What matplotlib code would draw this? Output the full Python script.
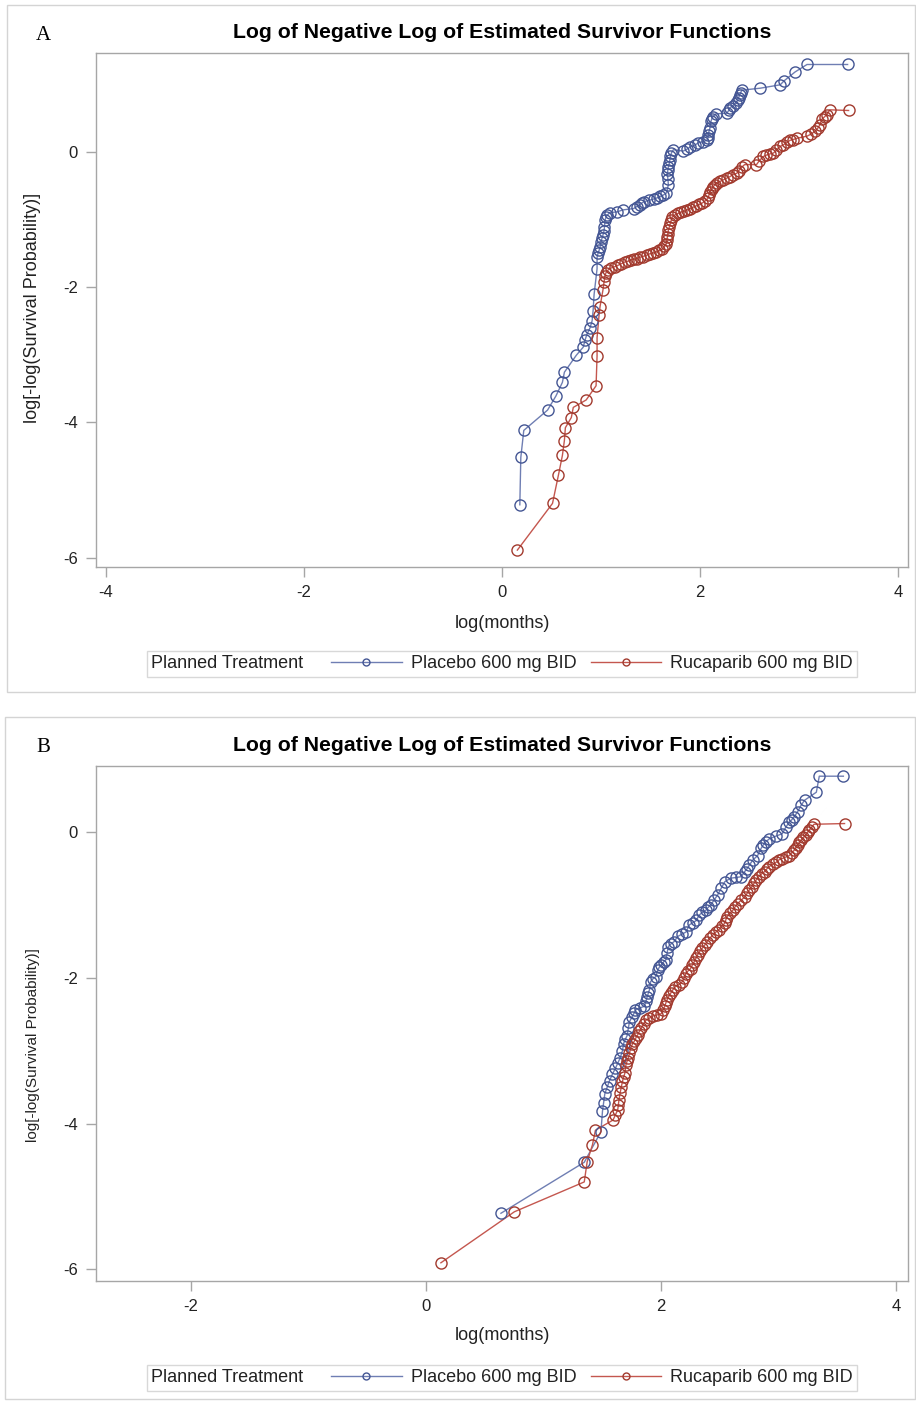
import matplotlib
matplotlib.use("Agg")
import matplotlib.pyplot as plt
from matplotlib.lines import Line2D
from matplotlib.patches import Rectangle
from matplotlib.offsetbox import HPacker

# ── Panel A: log(-log S(t)) vs log(months) ──────────────────────────────────
placebo_a_x = [0.18, 0.19, 0.22, 0.46, 0.545, 0.61, 0.63, 0.75, 0.82, 0.84, 0.855, 0.89,
               0.91, 0.92, 0.93, 0.96, 0.96, 0.97, 0.98, 0.99, 1.00, 1.01, 1.02, 1.03,
               1.035, 1.04, 1.05, 1.06, 1.09, 1.16, 1.22, 1.33, 1.36, 1.39, 1.41, 1.43,
               1.48, 1.53, 1.57, 1.60, 1.63, 1.66, 1.68, 1.675, 1.67, 1.675, 1.68, 1.69,
               1.695, 1.70, 1.71, 1.73, 1.83, 1.87, 1.90, 1.95, 1.98, 2.03, 2.07, 2.08,
               2.085, 2.09, 2.10, 2.11, 2.12, 2.13, 2.16, 2.27, 2.29, 2.30, 2.33, 2.36,
               2.38, 2.39, 2.40, 2.41, 2.42, 2.61, 2.81, 2.85, 2.96, 3.08, 3.49]
placebo_a_y = [-5.22, -4.52, -4.12, -3.82, -3.61, -3.41, -3.26, -3.01, -2.89, -2.78, -2.71, -2.60,
               -2.50, -2.35, -2.11, -1.73, -1.56, -1.50, -1.46, -1.41, -1.33, -1.28, -1.23, -1.17,
               -1.11, -1.01, -0.97, -0.94, -0.90, -0.89, -0.86, -0.84, -0.81, -0.79, -0.76, -0.74,
               -0.72, -0.70, -0.68, -0.66, -0.64, -0.61, -0.49, -0.40, -0.33, -0.27, -0.22, -0.17,
               -0.12, -0.07, -0.02, 0.03, 0.01, 0.04, 0.07, 0.10, 0.13, 0.15, 0.17, 0.21,
               0.25, 0.30, 0.35, 0.45, 0.49, 0.52, 0.56, 0.57, 0.61, 0.65, 0.68, 0.72,
               0.76, 0.80, 0.84, 0.87, 0.91, 0.94, 0.99, 1.05, 1.18, 1.29, 1.29]

rucaparib_a_x = [0.155, 0.51, 0.57, 0.61, 0.63, 0.64, 0.70, 0.72, 0.85, 0.95, 0.96, 0.96,
                 0.98, 0.99, 1.02, 1.03, 1.04, 1.05, 1.07, 1.10, 1.14, 1.17, 1.20, 1.24,
                 1.27, 1.30, 1.33, 1.36, 1.39, 1.42, 1.46, 1.49, 1.52, 1.56, 1.59, 1.62,
                 1.64, 1.66, 1.665, 1.67, 1.675, 1.68, 1.69, 1.70, 1.71, 1.72, 1.75, 1.78,
                 1.81, 1.84, 1.87, 1.90, 1.93, 1.96, 1.99, 2.02, 2.05, 2.08, 2.09, 2.10,
                 2.12, 2.13, 2.15, 2.17, 2.20, 2.23, 2.27, 2.30, 2.33, 2.37, 2.39, 2.42,
                 2.45, 2.57, 2.60, 2.64, 2.67, 2.71, 2.74, 2.77, 2.81, 2.84, 2.88, 2.91,
                 2.94, 2.98, 3.08, 3.12, 3.16, 3.19, 3.21, 3.23, 3.26, 3.28, 3.31, 3.50]
rucaparib_a_y = [-5.89, -5.20, -4.78, -4.49, -4.27, -4.08, -3.93, -3.78, -3.67, -3.46, -3.02, -2.75,
                 -2.42, -2.29, -2.04, -1.93, -1.83, -1.79, -1.75, -1.72, -1.70, -1.68, -1.66, -1.63,
                 -1.62, -1.60, -1.59, -1.58, -1.56, -1.55, -1.53, -1.51, -1.50, -1.48, -1.46, -1.44,
                 -1.40, -1.36, -1.31, -1.26, -1.21, -1.16, -1.11, -1.06, -1.01, -0.96, -0.93, -0.91,
                 -0.89, -0.88, -0.86, -0.84, -0.82, -0.80, -0.78, -0.76, -0.73, -0.69, -0.64, -0.59,
                 -0.55, -0.52, -0.49, -0.46, -0.44, -0.42, -0.39, -0.37, -0.34, -0.32, -0.28, -0.23,
                 -0.19, -0.19, -0.13, -0.07, -0.05, -0.03, -0.02, 0.02, 0.08, 0.10, 0.14, 0.17,
                 0.18, 0.20, 0.23, 0.26, 0.30, 0.35, 0.40, 0.48, 0.52, 0.55, 0.62, 0.61]

# ── Panel B ─────────────────────────────────────────────────────────────────
placebo_b_x = [0.636, 1.345, 1.487, 1.50, 1.51, 1.52, 1.54, 1.56, 1.585, 1.61, 1.63, 1.65,
               1.67, 1.68, 1.695, 1.71, 1.72, 1.73, 1.75, 1.77, 1.78, 1.82, 1.855, 1.87,
               1.88, 1.89, 1.90, 1.91, 1.93, 1.955, 1.97, 1.985, 2.00, 2.02, 2.04, 2.05,
               2.06, 2.085, 2.11, 2.14, 2.175, 2.21, 2.24, 2.27, 2.30, 2.32, 2.35, 2.38,
               2.40, 2.42, 2.45, 2.48, 2.51, 2.54, 2.59, 2.64, 2.68, 2.71, 2.73, 2.75,
               2.78, 2.82, 2.85, 2.87, 2.89, 2.92, 2.98, 3.03, 3.06, 3.09, 3.11, 3.13,
               3.16, 3.19, 3.22, 3.32, 3.345, 3.55]
placebo_b_y = [-5.23, -4.53, -4.11, -3.83, -3.71, -3.59, -3.50, -3.41, -3.32, -3.24, -3.17, -3.10,
               -3.00, -2.90, -2.84, -2.79, -2.69, -2.60, -2.54, -2.48, -2.44, -2.41, -2.39, -2.32,
               -2.26, -2.21, -2.16, -2.05, -2.01, -1.98, -1.89, -1.85, -1.82, -1.78, -1.75, -1.66,
               -1.57, -1.53, -1.50, -1.43, -1.40, -1.37, -1.27, -1.24, -1.21, -1.14, -1.10, -1.07,
               -1.03, -1.00, -0.93, -0.86, -0.77, -0.68, -0.63, -0.62, -0.61, -0.54, -0.50, -0.45,
               -0.38, -0.32, -0.22, -0.17, -0.13, -0.09, -0.05, -0.02, 0.07, 0.14, 0.17, 0.21,
               0.28, 0.37, 0.44, 0.55, 0.77, 0.77]

rucaparib_b_x = [0.125, 0.75, 1.345, 1.37, 1.415, 1.44, 1.59, 1.61, 1.63, 1.635, 1.64, 1.65,
                 1.66, 1.67, 1.68, 1.69, 1.70, 1.71, 1.72, 1.73, 1.74, 1.755, 1.77, 1.785,
                 1.80, 1.815, 1.83, 1.85, 1.87, 1.90, 1.93, 1.96, 2.00, 2.015, 2.03, 2.04,
                 2.05, 2.065, 2.08, 2.10, 2.12, 2.15, 2.18, 2.195, 2.21, 2.23, 2.25, 2.265,
                 2.28, 2.295, 2.31, 2.33, 2.35, 2.37, 2.39, 2.415, 2.44, 2.465, 2.49, 2.515,
                 2.54, 2.55, 2.56, 2.585, 2.61, 2.63, 2.65, 2.68, 2.71, 2.73, 2.75, 2.77,
                 2.79, 2.81, 2.83, 2.855, 2.88, 2.90, 2.92, 2.95, 2.98, 3.00, 3.03, 3.06,
                 3.09, 3.11, 3.13, 3.145, 3.16, 3.175, 3.19, 3.21, 3.23, 3.245, 3.26, 3.28,
                 3.30, 3.56]
rucaparib_b_y = [-5.91, -5.21, -4.80, -4.52, -4.29, -4.09, -3.95, -3.88, -3.81, -3.74, -3.68, -3.58,
                 -3.50, -3.42, -3.36, -3.31, -3.19, -3.14, -3.10, -3.03, -2.96, -2.91, -2.87, -2.82,
                 -2.78, -2.73, -2.69, -2.63, -2.58, -2.55, -2.52, -2.51, -2.49, -2.44, -2.39, -2.34,
                 -2.30, -2.25, -2.21, -2.16, -2.12, -2.09, -2.05, -2.00, -1.94, -1.90, -1.87, -1.82,
                 -1.78, -1.73, -1.68, -1.63, -1.59, -1.55, -1.50, -1.45, -1.41, -1.37, -1.34, -1.29,
                 -1.25, -1.20, -1.16, -1.11, -1.07, -1.02, -0.98, -0.93, -0.89, -0.84, -0.79, -0.75,
                 -0.70, -0.65, -0.61, -0.57, -0.54, -0.50, -0.47, -0.44, -0.41, -0.38, -0.36, -0.34,
                 -0.32, -0.28, -0.25, -0.21, -0.18, -0.14, -0.11, -0.07, -0.04, 0.00, 0.03, 0.07,
                 0.11, 0.12]

series_labels = ["Placebo 600 mg BID", "Rucaparib 600 mg BID"]
legend_title = "Planned Treatment"
plot_title = "Log of Negative Log of Estimated Survivor Functions"
x_label = "log(months)"
y_label = "log[-log(Survival Probability)]"

BLUE_LINE, BLUE_MARK = "#6F7EB3", "#445694"
RED_LINE, RED_MARK = "#C4574F", "#A23A2E"
FRAME = "#A6A6A6"
SANS = ["Liberation Sans", "DejaVu Sans"]

W, H = 916, 1401
fig = plt.figure(figsize=(W / 100, H / 100), dpi=100)


def fx(px):
    return px / W


def fy(py):
    return 1 - py / H


panels = [
    dict(tag="A", box=(7, 5, 915, 692), ax=(96, 53, 908, 567), title_y=32,
         xlim=(-4.1, 4.1), ylim=(-6.14, 1.46), xticks=[-4, -2, 0, 2, 4],
         xl_y=623, yl_y=308, yl_size=13, leg_y=664,
         data=[(placebo_a_x, placebo_a_y), (rucaparib_a_x, rucaparib_a_y)]),
    dict(tag="B", box=(5, 717, 915, 1399), ax=(96, 766, 908, 1281), title_y=745,
         xlim=(-2.81, 4.1), ylim=(-6.16, 0.91), xticks=[-2, 0, 2, 4],
         xl_y=1336, yl_y=1045, yl_size=11, leg_y=1378,
         data=[(placebo_b_x, placebo_b_y), (rucaparib_b_x, rucaparib_b_y)]),
]

for p in panels:
    x0, y0, x1, y1 = p["box"]
    fig.patches.append(Rectangle((fx(x0), fy(y1)), fx(x1 - x0), (y1 - y0) / H,
                                 transform=fig.transFigure, fill=False,
                                 edgecolor="#D4D4D4", linewidth=1.0))
    fig.text(fx(43), fy(p["title_y"] + 3), p["tag"], family="Liberation Serif",
             fontsize=15, ha="center", va="center")

    l, t, r, b = p["ax"]
    ax = fig.add_axes([fx(l), fy(b), fx(r - l), (b - t) / H])
    for (xs, ys), lc, mc in zip(p["data"], [BLUE_LINE, RED_LINE], [BLUE_MARK, RED_MARK]):
        ax.plot(xs, ys, color=lc, linewidth=1.0, zorder=2)
        ax.plot(xs, ys, linestyle="none", marker="o", markersize=8,
                markerfacecolor="none", markeredgecolor=mc, markeredgewidth=1.0, zorder=3)

    ax.set_xlim(*p["xlim"])
    ax.set_ylim(*p["ylim"])
    ax.set_xticks(p["xticks"])
    ax.set_yticks([-6, -4, -2, 0])
    ax.set_xticklabels([str(v) for v in p["xticks"]], family=SANS)
    ax.set_yticklabels(["-6", "-4", "-2", "0"], family=SANS)
    ax.tick_params(axis="both", direction="out", length=7, width=1, color=FRAME,
                   labelsize=12, labelcolor="#222222", pad=6)
    for s in ax.spines.values():
        s.set_color(FRAME)
        s.set_linewidth(1.0)

    fig.text(fx((l + r) / 2), fy(p["title_y"]), plot_title, fontsize=15.3,
             fontweight="bold", family="Liberation Sans", ha="center", va="center")
    fig.text(fx((l + r) / 2), fy(p["xl_y"]), x_label, fontsize=13, family=SANS,
             ha="center", va="center", color="#222222")
    fig.text(fx(33), fy(p["yl_y"]), y_label, fontsize=p["yl_size"], family=SANS,
             rotation=90, ha="center", va="center", color="#222222")

    handles = [Line2D([], [], color=c, linewidth=1.0, marker="o", markersize=5,
                      markerfacecolor="none", markeredgecolor=m)
               for c, m in [(BLUE_LINE, BLUE_MARK), (RED_LINE, RED_MARK)]]
    fs = 13
    leg = fig.legend(handles, series_labels, loc="center",
                     bbox_to_anchor=(fx(502), fy(p["leg_y"])), ncol=2,
                     title=legend_title, fontsize=fs, title_fontsize=fs,
                     frameon=True, fancybox=False, edgecolor="#CFCFCF",
                     handlelength=3.9, handletextpad=0.5, columnspacing=0.8,
                     borderpad=0.25, borderaxespad=0)
    for txt in leg.get_texts() + [leg.get_title()]:
        txt.set_family(SANS)
        txt.set_color("#222222")
    leg.get_frame().set_linewidth(1.0)
    # put the title to the left of the entries, on one row
    leg._legend_box = HPacker(pad=leg.borderpad * fs, sep=20, align="center",
                              children=[leg._legend_title_box, leg._legend_handle_box])
    leg._legend_box.set_figure(fig)
    leg._legend_box.set_offset(leg._findoffset)

fig.savefig("out.png", dpi=100)
